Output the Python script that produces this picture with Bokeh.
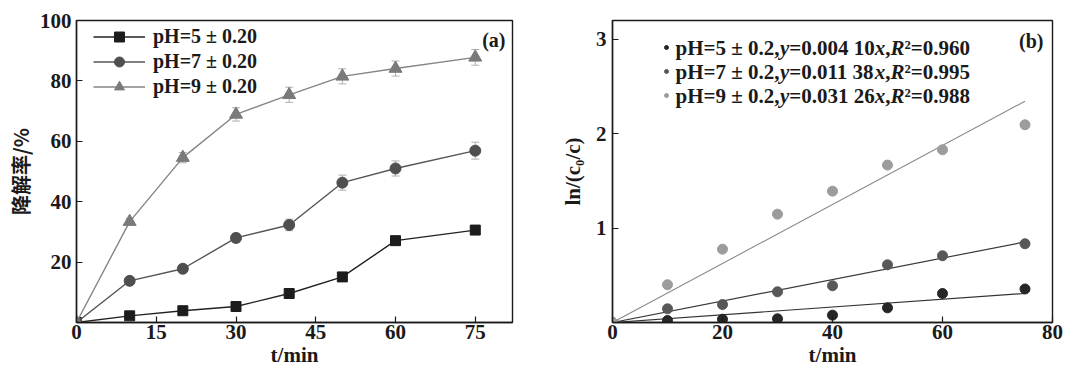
import math
from bokeh.plotting import figure
from bokeh.layouts import row
from bokeh.models import (Range1d, FixedTicker, Legend, LegendItem, Label,
                          Whisker, TeeHead, ColumnDataSource)
from bokeh.embed import file_html
from bokeh.resources import INLINE

# ---------------- data ----------------
t_min = [0, 10, 20, 30, 40, 50, 60, 75]
deg_ph5 = [0, 2.2, 3.9, 5.3, 9.6, 15.1, 27.1, 30.6]
deg_ph7 = [0, 13.8, 17.8, 28.0, 32.3, 46.3, 51.0, 56.9]
deg_ph9 = [0, 33.4, 54.6, 68.9, 75.4, 81.5, 84.1, 87.8]
err_ph5 = [0, 0.4, 0.5, 0.5, 0.6, 0.8, 1.0, 1.2]
err_ph7 = [0, 0.8, 1.0, 1.5, 1.9, 2.5, 2.5, 2.8]
err_ph9 = [0, 1.0, 1.7, 2.2, 2.5, 2.5, 2.5, 2.6]
labels_a = ["pH=5 ± 0.20", "pH=7 ± 0.20", "pH=9 ± 0.20"]

ln_ph5 = [0, 0.021, 0.035, 0.039, 0.078, 0.155, 0.307, 0.355]
ln_ph7 = [0, 0.145, 0.19, 0.325, 0.389, 0.611, 0.707, 0.834]
ln_ph9 = [0, 0.40, 0.777, 1.148, 1.392, 1.668, 1.83, 2.095]
k_fit = [0.00410, 0.01138, 0.03126]
fit_t = [0, 75]
ph_b = ["pH=5 ± 0.2,", "pH=7 ± 0.2,", "pH=9 ± 0.2,"]
k_txt = ["=0.004 10", "=0.011 38", "=0.031 26"]
r2_txt = ["²=0.960", "²=0.995", "²=0.988"]

xticks_a = [0, 15, 30, 45, 60, 75]
yticks_a = [0, 20, 40, 60, 80, 100]
xticks_b = [0, 20, 40, 60, 80]
yticks_b = [0, 1, 2, 3]
xtitle = "t/min"
ytitle_a = "降解率/%"
ytitle_b = "ln/(c₀/c)"

SERIF = "Liberation Serif"
CJK = "Noto Sans CJK SC"
TXT = "#1a1a1a"

# Times-like widths (per 1000 em) to lay out mixed-style text
W_B = {' ': 250, '(': 333, ')': 333, ',': 250, '.': 250, '/': 278, '=': 570,
       '±': 570, '%': 1000, 'H': 778, 'R': 722, 'p': 556, 'l': 278, 'n': 556,
       'm': 833, 'i': 278, 't': 333, 'x': 500, 'y': 500, 'c': 444, '²': 300}
W_BI = {'y': 444, 'x': 500, 'R': 667, 'c': 444, 't': 278}


def text_w(s, style, size):
    tbl = W_BI if "italic" in style else W_B
    tot = 0
    for ch in s:
        if ch.isdigit():
            tot += 500
        else:
            tot += tbl.get(ch, W_B.get(ch, 500))
    return tot / 1000 * size


def rich(p, pieces, x, y):
    """pieces: (text, style, size)"""
    pos = x
    for txt, style, size in pieces:
        p.add_layout(Label(x=pos, y=y, x_units="screen", y_units="screen", text=txt,
                           text_font=SERIF, text_font_style=style,
                           text_font_size=f"{size}px", text_color=TXT,
                           text_baseline="middle", text_align="left"))
        pos += text_w(txt, style, size)


def style(p, xticks, yticks):
    p.xaxis.ticker = FixedTicker(ticks=xticks)
    p.yaxis.ticker = FixedTicker(ticks=yticks)
    for ax in (p.xaxis[0], p.yaxis[0]):
        ax.major_tick_in = 6
        ax.major_tick_out = 0
        ax.minor_tick_line_color = None
        ax.axis_line_width = 1.4
        ax.axis_line_color = TXT
        ax.major_tick_line_color = TXT
        ax.major_tick_line_width = 1.2
        ax.major_label_text_font = SERIF
        ax.major_label_text_font_style = "bold"
        ax.major_label_text_font_size = "21px"
        ax.major_label_text_color = TXT
        ax.axis_label_text_font = SERIF
        ax.axis_label_text_font_style = "bold"
        ax.axis_label_text_font_size = "21px"
        ax.axis_label_text_color = TXT
    p.xaxis.major_label_standoff = 2
    p.yaxis.major_label_standoff = 6
    p.xaxis.axis_label_standoff = 1
    p.yaxis.major_label_overrides = {0: ""}
    p.xgrid.visible = False
    p.ygrid.visible = False
    p.outline_line_color = TXT
    p.outline_line_width = 1.4
    p.background_fill_color = "white"
    p.border_fill_color = "white"


# ---------------- panel (a) ----------------
p1 = figure(width=540, height=370, x_range=Range1d(0, 82), y_range=Range1d(0, 100),
            output_backend="svg", toolbar_location=None,
            x_axis_label=xtitle, y_axis_label=ytitle_a,
            min_border_left=76, min_border_right=28, min_border_top=20, min_border_bottom=47)
style(p1, xticks_a, yticks_a)
p1.yaxis.major_label_standoff = 5
p1.yaxis.axis_label_standoff = 2
p1.yaxis.axis_label_text_font = CJK
p1.yaxis.axis_label_text_font_size = "20px"

series_a = [
    (deg_ph5, err_ph5, "#1c1c1c", "#222222", "square", 10),
    (deg_ph7, err_ph7, "#4f4f4f", "#555555", "circle", 11),
    (deg_ph9, err_ph9, "#7a7a7a", "#858585", "triangle", 13),
]
items = []
for (vals, errs, mcol, lcol, mk, sz), lab in zip(series_a, labels_a):
    src = ColumnDataSource(dict(t=t_min, v=vals,
                                up=[v + e for v, e in zip(vals, errs)],
                                lo=[v - e for v, e in zip(vals, errs)]))
    wk = Whisker(source=src, base="t", upper="up", lower="lo",
                 line_color="#b0b0b0", line_width=1,
                 upper_head=TeeHead(size=8, line_color="#b0b0b0", line_width=1),
                 lower_head=TeeHead(size=8, line_color="#b0b0b0", line_width=1))
    p1.add_layout(wk)
    ln = p1.line("t", "v", source=src, line_color=lcol, line_width=1.4)
    sc = p1.scatter("t", "v", source=src, marker=mk, size=sz,
                    fill_color=mcol, line_color=mcol)
    items.append(LegendItem(label=lab, renderers=[ln, sc]))

leg1 = Legend(items=items, location=(17, 223), margin=0, padding=0, spacing=0,
              glyph_width=52, glyph_height=25, label_height=25, label_standoff=8,
              border_line_color=None, background_fill_alpha=0,
              label_text_font=SERIF, label_text_font_style="bold",
              label_text_font_size="20px", label_text_color=TXT)
p1.add_layout(leg1)

p1.add_layout(Label(x=429, y=283, x_units="screen", y_units="screen", text="(a)",
                    text_font=SERIF, text_font_style="bold", text_font_size="20px",
                    text_color=TXT, text_align="right", text_baseline="middle"))

# ---------------- panel (b) ----------------
p2 = figure(width=539, height=370, x_range=Range1d(0, 80), y_range=Range1d(0, 3.2),
            output_backend="svg", toolbar_location=None,
            x_axis_label=xtitle, y_axis_label=ytitle_b,
            min_border_left=72, min_border_right=27, min_border_top=20, min_border_bottom=48)
style(p2, xticks_b, yticks_b)
p2.yaxis.axis_label_standoff = 8

series_b = [
    (ln_ph5, "#262626", "#333333", 1.2),
    (ln_ph7, "#585858", "#3a3a3a", 1.2),
    (ln_ph9, "#9c9c9c", "#8a8a8a", 1.1),
]
items2 = []
for (vals, mcol, lcol, lw), k in zip(series_b, k_fit):
    p2.line(fit_t, [k * x for x in fit_t], line_color=lcol, line_width=lw)
for vals, mcol, lcol, lw in series_b:
    sc = p2.scatter(t_min, vals, marker="circle", size=10,
                    fill_color=mcol, line_color=mcol)
    items2.append(LegendItem(label=" ", renderers=[sc]))

leg2 = Legend(items=items2, location=(49, 215), margin=0, padding=0, spacing=0,
              glyph_width=10, glyph_height=24, label_height=24, label_width=0,
              label_standoff=0, border_line_color=None, background_fill_alpha=0,
              label_text_font_size="1px")
p2.add_layout(leg2)

rows_y = [275, 251, 227]
for ph, kt, r2, yy in zip(ph_b, k_txt, r2_txt, rows_y):
    pieces = [(ph, "bold", 21), ("y", "bold italic", 21), (kt, "bold", 21),
              ("x", "bold italic", 21), (",", "bold", 21), ("R", "bold italic", 21),
              (r2, "bold", 21)]
    rich(p2, pieces, 63, yy)

p2.add_layout(Label(x=431, y=282, x_units="screen", y_units="screen", text="(b)",
                    text_font=SERIF, text_font_style="bold", text_font_size="20px",
                    text_color=TXT, text_align="right", text_baseline="middle"))

layout = row(p1, p2)
open("out.html", "w").write(file_html(layout, INLINE))
